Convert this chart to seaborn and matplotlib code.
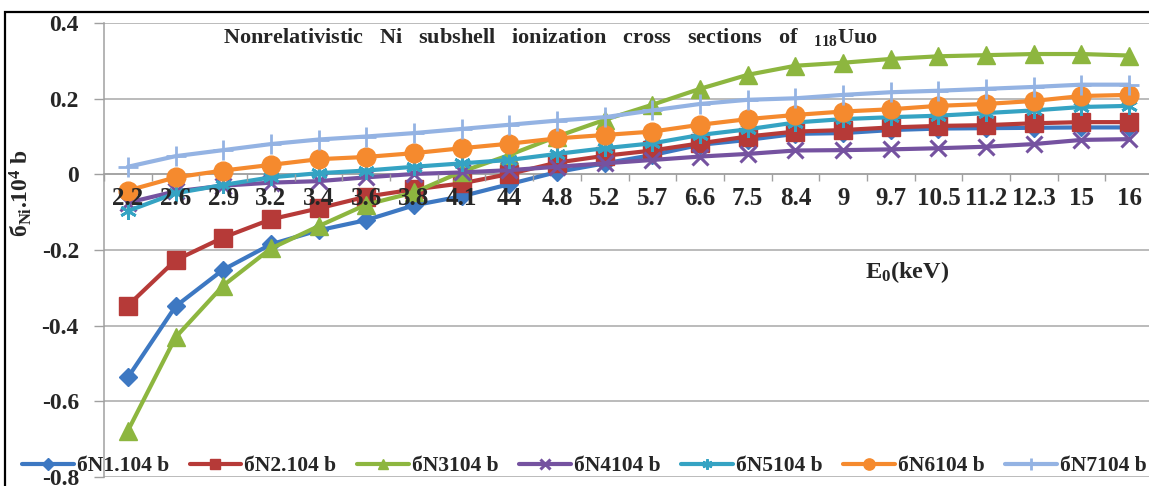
import numpy as np
import pandas as pd
import matplotlib
matplotlib.use("Agg")
import matplotlib.pyplot as plt
from matplotlib.patches import Rectangle
import seaborn as sns

# ---------------- data ----------------
categories = ["2.2", "2.6", "2.9", "3.2", "3.4", "3.6", "3.8", "4.1", "44", "4.8", "5.2",
              "5.7", "6.6", "7.5", "8.4", "9", "9.7", "10.5", "11.2", "12.3", "15", "16"]

n1 = [-0.537, -0.349, -0.252, -0.185, -0.148, -0.121, -0.082, -0.058, -0.026, 0.006, 0.029,
      0.051, 0.078, 0.091, 0.107, 0.109, 0.117, 0.121, 0.122, 0.123, 0.124, 0.124]
n2 = [-0.347, -0.227, -0.167, -0.119, -0.090, -0.059, -0.040, -0.024, 0.001, 0.031, 0.049,
      0.063, 0.082, 0.100, 0.113, 0.117, 0.124, 0.128, 0.130, 0.135, 0.138, 0.138]
n3 = [-0.678, -0.431, -0.294, -0.196, -0.137, -0.080, -0.048, 0.007, 0.051, 0.100, 0.144,
      0.184, 0.226, 0.263, 0.287, 0.295, 0.305, 0.312, 0.315, 0.318, 0.318, 0.314]
n4 = [-0.075, -0.045, -0.030, -0.022, -0.018, -0.008, 0.001, 0.005, 0.011, 0.020, 0.029,
      0.038, 0.047, 0.054, 0.063, 0.064, 0.066, 0.069, 0.073, 0.080, 0.091, 0.093]
n5 = [-0.097, -0.050, -0.028, -0.008, 0.003, 0.010, 0.020, 0.029, 0.038, 0.054, 0.069,
      0.082, 0.104, 0.119, 0.137, 0.146, 0.151, 0.155, 0.162, 0.169, 0.178, 0.181]
n6 = [-0.043, -0.008, 0.010, 0.025, 0.040, 0.046, 0.056, 0.069, 0.081, 0.095, 0.104,
      0.113, 0.131, 0.146, 0.157, 0.166, 0.172, 0.181, 0.186, 0.194, 0.207, 0.210]
n7 = [0.020, 0.048, 0.064, 0.080, 0.092, 0.100, 0.109, 0.120, 0.131, 0.142, 0.151,
      0.169, 0.186, 0.197, 0.201, 0.210, 0.217, 0.221, 0.226, 0.231, 0.237, 0.237]

series_names = ["бN1.104 b", "бN2.104 b", "бN3104 b", "бN4104 b", "бN5104 b", "бN6104 b", "бN7104 b"]
series_values = [n1, n2, n3, n4, n5, n6, n7]

y_ticks = [-0.8, -0.6, -0.4, -0.2, 0.0, 0.2, 0.4]
y_tick_labels = ["-0.8", "-0.6", "-0.4", "-0.2", "0", "0.2", "0.4"]

title_text = ("Nonrelativistic   Ni   subshell   ionization   cross   sections   of   "
              "$_{\\rm 118}$Uuo")
ylabel_text = "б$_{\\rm Ni}$.10$^{\\rm 4}$ b"
xlabel_text = "E$_{\\rm 0}$(keV)"

# ---------------- styles ----------------
colors = ["#3D78C2", "#B63A38", "#8DB63F", "#7552A0", "#35A3C3", "#F58A2E", "#94B3E3"]
markers = ["D", "s", "^", "x", (6, 2, 0), "o", "+"]
msizes = [9.5, 13, 13, 12, 12, 13.5, 15]
mews = [1, 1, 1, 2.2, 2.0, 1, 2.0]

sns.set_theme(style="white")
plt.rcParams["font.family"] = ["Liberation Serif", "DejaVu Serif"]
plt.rcParams["font.weight"] = "bold"
plt.rcParams["mathtext.fontset"] = "custom"
plt.rcParams["mathtext.rm"] = "Liberation Serif:bold"
plt.rcParams["mathtext.bf"] = "Liberation Serif:bold"
plt.rcParams["mathtext.it"] = "Liberation Serif:bold:italic"

# long data frame
pos = np.arange(len(categories))
frames = []
for name, vals in zip(series_names, series_values):
    frames.append(pd.DataFrame({"pos": pos, "value": vals, "series": name}))
df = pd.concat(frames, ignore_index=True)

W, H = 1149, 486
fig = plt.figure(figsize=(W / 100, H / 100), dpi=100)
ax = fig.add_axes([104 / W, 1 - 477 / H, 1049 / W, 454 / H])

for i, name in enumerate(series_names):
    sub = df[df["series"] == name]
    sns.lineplot(data=sub, x="pos", y="value", ax=ax, color=colors[i], lw=3.0,
                 marker=markers[i], markersize=msizes[i], markeredgewidth=mews[i],
                 markeredgecolor=colors[i], markerfacecolor=colors[i],
                 label=name, legend=False, zorder=2 + i * 0.01)

ax.set_xlim(-0.5, len(categories) - 0.5)
ax.set_ylim(-0.8, 0.4)

# y axis
ax.set_yticks(y_ticks)
ax.set_yticklabels(y_tick_labels, fontsize=17, fontweight="bold")
ax.tick_params(axis="y", which="major", length=7, width=1, color="#a0a0a0", pad=11, left=True)
ax.yaxis.grid(True, color="#a8a8a8", lw=1.1)
ax.xaxis.grid(False)
ax.set_axisbelow(True)
ax.xaxis.set_zorder(5)

# x axis crossing at zero
ax.spines["bottom"].set_position(("data", 0))
for s in ["top", "right"]:
    ax.spines[s].set_visible(False)
ax.spines["bottom"].set_color("#a0a0a0")
ax.spines["left"].set_color("#a0a0a0")
ax.spines["bottom"].set_linewidth(1.1)
ax.spines["left"].set_linewidth(1.1)
ax.spines["bottom"].set_zorder(1)
ax.set_xticks(pos)
ax.set_xticklabels(categories, fontsize=18, fontweight="bold")
ax.set_xticks(np.arange(len(categories) + 1) - 0.5, minor=True)
ax.tick_params(axis="x", which="major", length=0, pad=9, bottom=True)
ax.tick_params(axis="x", which="minor", length=5, width=1, color="#a0a0a0", bottom=True, direction="out")

# labels
ax.set_ylabel(ylabel_text, fontsize=17, fontweight="bold", labelpad=0)
ax.yaxis.set_label_coords((34 - 104) / 1049, (477 - 193) / 454)
ax.set_xlabel(xlabel_text, fontsize=17.5, fontweight="bold")
ax.xaxis.set_label_coords((907 - 104) / 1049, (477 - 272) / 454)
ax.xaxis.label.set_va("center")

ax.text((551 - 104) / 1049, (477 - 37) / 454, title_text, transform=ax.transAxes,
        ha="center", va="center", fontsize=16, fontweight="bold", zorder=6)

# legend
handles, labels = ax.get_legend_handles_labels()
fig.legend(handles, labels, loc="center left", bbox_to_anchor=(22 / W, 1 - 466 / H),
           ncol=7, frameon=False, prop={"family": "Liberation Serif", "weight": "bold", "size": 15.5},
           handlelength=2.4, handletextpad=0.15, columnspacing=0.95, markerscale=0.6,
           borderaxespad=0, borderpad=0)

# outer frame
fig.patches.append(Rectangle((5 / W, -0.2), 1.2, 1.2 - 12 / H, transform=fig.transFigure,
                             fill=False, edgecolor="black", lw=1.6, zorder=0))

fig.savefig("out.png", dpi=100)
